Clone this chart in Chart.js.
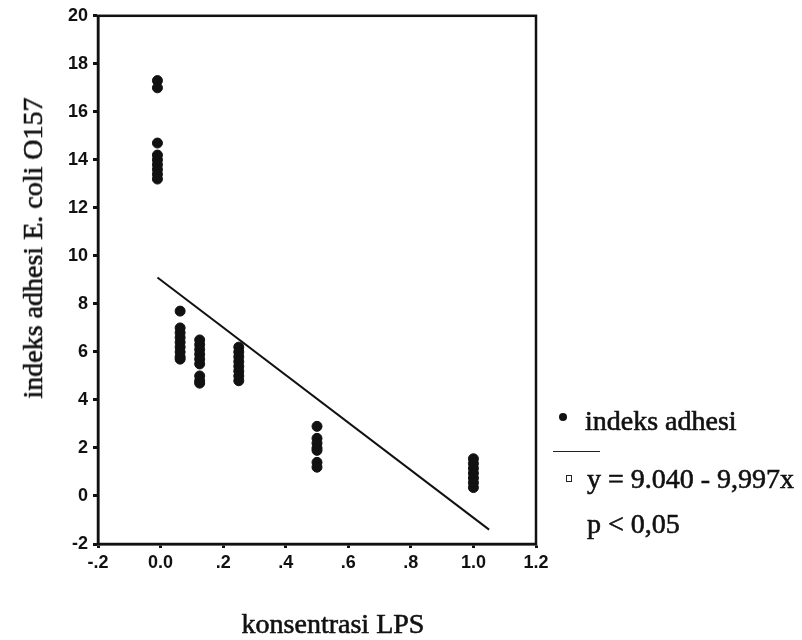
<!DOCTYPE html>
<html>
<head>
<meta charset="utf-8">
<script src="https://cdn.jsdelivr.net/npm/chart.js@4.4.1/dist/chart.umd.min.js"></script>
<style>
  html, body { margin: 0; padding: 0; background: #fff; }
  #wrap { position: relative; width: 802px; height: 640px; }
  .txt { position: absolute; font-family: "Liberation Serif", "Times New Roman", serif; font-size: 28px; line-height: 28px; color: #111; white-space: nowrap; -webkit-text-stroke: 0.6px #111; }
</style>
</head>
<body>
<div id="wrap">
  <canvas id="chart" width="802" height="640"></canvas>
  <div class="txt" id="ytitle" style="left:33px; top:248px; transform: translate(-50%, -50%) rotate(-90deg);">indeks adhesi E. coli O157</div>
  <div class="txt" style="left:333px; top:610px; transform: translateX(-50%);">konsentrasi LPS</div>
  <!-- legend -->
  <div style="position:absolute; left:559px; top:413px; width:8px; height:8px; border-radius:50%; background:#111;"></div>
  <div class="txt" style="left:585px; top:407px;">indeks adhesi</div>
  <div style="position:absolute; left:553px; top:451px; width:47px; height:1px; background:#222;"></div>
  <div style="position:absolute; left:566px; top:475px; width:4px; height:5px; border:1px solid #222;"></div>
  <div class="txt" style="left:587px; top:465px;">y = 9.040 - 9,997x</div>
  <div class="txt" style="left:587px; top:510px;">p &lt; 0,05</div>
</div>
<script>
// konsentrasi LPS per group (first column sits just left of 0.0 in the picture)
const konsentrasi = [-0.01, 0.0625, 0.125, 0.25, 0.5, 1.0];

// indeks adhesi
const adhesi0 = [17.3, 17.0, 14.7, 14.2, 14.0, 13.8, 13.6, 13.4, 13.2];
const adhesi1 = [7.7, 7.0, 6.8, 6.6, 6.4, 6.2, 6.0, 5.8, 5.7];
const adhesi2 = [6.5, 6.3, 6.1, 5.9, 5.7, 5.5, 5.0, 4.8, 4.7];
const adhesi3 = [6.2, 6.0, 5.8, 5.6, 5.4, 5.2, 5.0, 4.8];
const adhesi4 = [2.9, 2.4, 2.2, 2.0, 1.9, 1.4, 1.2];
const adhesi5 = [1.55, 1.35, 1.15, 0.95, 0.75, 0.55, 0.35];

// regression line end points
const garisX = [-0.01, 1.05];
const garisY = [9.1, -1.4];

const xTickLabels = ['-.2', '0.0', '.2', '.4', '.6', '.8', '1.0', '1.2'];
const yTickLabels = ['-2', '0', '2', '4', '6', '8', '10', '12', '14', '16', '18', '20'];

const groups = [adhesi0, adhesi1, adhesi2, adhesi3, adhesi4, adhesi5];
const points = [];
groups.forEach((vals, i) => {
  vals.forEach(v => points.push({ x: konsentrasi[i], y: v }));
});
const garis = garisX.map((x, i) => ({ x: x, y: garisY[i] }));

// draw the box round the plot area
const frame = {
  id: 'frame',
  afterDatasetsDraw(chart) {
    const a = chart.chartArea, ctx = chart.ctx;
    ctx.save();
    ctx.strokeStyle = '#111';
    ctx.lineWidth = 2.5;
    ctx.strokeRect(a.left, a.top, a.right - a.left, a.bottom - a.top);
    ctx.restore();
  }
};

const ctx = document.getElementById('chart').getContext('2d');
const chart = new Chart(ctx, {
  type: 'scatter',
  data: {
    datasets: [{
      label: 'indeks adhesi',
      data: points,
      backgroundColor: '#111',
      borderColor: '#111',
      pointRadius: 5,
      pointHoverRadius: 5
    }, {
      label: 'y = 9.040 - 9,997x',
      data: garis,
      showLine: true,
      borderColor: '#111',
      borderWidth: 2,
      pointRadius: 0
    }]
  },
  options: {
    responsive: false,
    animation: false,
    layout: { padding: { left: 0, right: 266, top: 15, bottom: 0 } },
    plugins: { legend: { display: false }, tooltip: { enabled: false } },
    scales: {
      x: {
        type: 'linear',
        min: -0.2,
        max: 1.2,
        afterFit: s => { s.height = 96; },
        afterBuildTicks: s => { s.ticks = xTickLabels.map((t, i) => ({ value: -0.2 + i * 0.2 })); },
        ticks: {
          callback: (v, i) => xTickLabels[i],
          color: '#111',
          font: { family: 'Liberation Sans', size: 18, weight: 'bold' },
          padding: 4,
          maxRotation: 0
        },
        grid: { drawOnChartArea: false, tickLength: 4, tickWidth: 3, color: '#111' },
        border: { display: true, color: '#111', width: 2.5 }
      },
      y: {
        min: -2,
        max: 20,
        afterFit: s => { s.width = 98; },
        afterBuildTicks: s => { s.ticks = yTickLabels.map(t => ({ value: Number(t) })); },
        ticks: {
          callback: (v, i) => yTickLabels[i],
          color: '#111',
          font: { family: 'Liberation Sans', size: 18, weight: 'bold' },
          padding: 5
        },
        grid: { drawOnChartArea: false, tickLength: 5, tickWidth: 3, color: '#111' },
        border: { display: true, color: '#111', width: 2.5 }
      }
    }
  },
  plugins: [frame]
});
</script>
</body>
</html>
